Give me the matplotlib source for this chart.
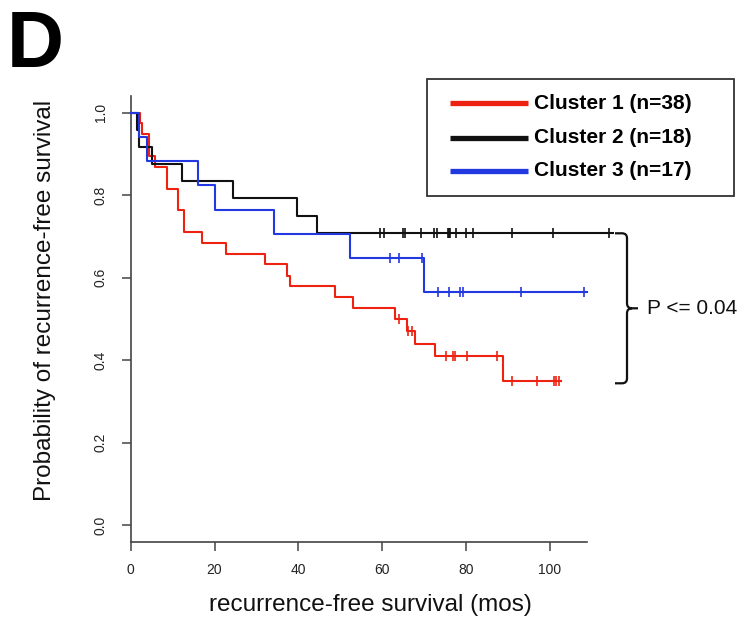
import numpy as np
import matplotlib
matplotlib.use("Agg")
import matplotlib.pyplot as plt
from matplotlib.path import Path
from matplotlib.patches import PathPatch, Rectangle
from matplotlib.lines import Line2D

plt.rcParams["font.family"] = ["Liberation Sans", "DejaVu Sans"]

W, H = 755, 621

# ---------------- data ----------------
labels = ["Cluster 1 (n=38)", "Cluster 2 (n=18)", "Cluster 3 (n=17)"]
colors = ["#EE2211", "#111111", "#2238E0"]

red_times = [0, 2.2, 2.8, 4.3, 5.7, 8.6, 11.3, 12.6, 16.9, 22.7, 32.0, 37.2, 38.1,
             48.7, 53.1, 63.0, 65.8, 67.8, 72.6, 88.9]
red_surv = [1.0, 0.974, 0.947, 0.895, 0.868, 0.816, 0.763, 0.711, 0.684, 0.658, 0.632,
            0.605, 0.579, 0.553, 0.526, 0.499, 0.471, 0.439, 0.410, 0.350]
red_cens = [64.0, 66.2, 67.0, 75.1, 76.9, 77.3, 80.1, 87.3, 90.9, 96.8, 101.0, 101.4, 102.1]
red_end = 102.6

black_times = [0, 1.4, 2.0, 5.0, 12.2, 24.4, 39.7, 44.4]
black_surv = [1.0, 0.958, 0.917, 0.875, 0.834, 0.792, 0.750, 0.709]
black_cens = [59.5, 60.3, 64.9, 65.5, 69.2, 72.3, 73.0, 75.6, 75.9, 76.2, 77.7, 80.0,
              81.7, 90.9, 100.6, 114.1]
black_end = 115.0

blue_times = [0, 2.0, 4.0, 16.0, 20.2, 34.1, 52.4, 69.9]
blue_surv = [1.0, 0.941, 0.882, 0.824, 0.765, 0.706, 0.647, 0.566]
blue_cens = [61.8, 64.0, 69.5, 73.3, 75.8, 78.5, 79.2, 93.2, 108.2]
blue_end = 108.8

x_ticks = [0, 20, 40, 60, 80, 100]
y_ticks = [0.0, 0.2, 0.4, 0.6, 0.8, 1.0]
x_label = "recurrence-free survival (mos)"
y_label = "Probability of recurrence-free survival"
p_text = "P <= 0.04"
panel = "D"

series = [
    (red_times, red_surv, red_cens, red_end),
    (black_times, black_surv, black_cens, black_end),
    (blue_times, blue_surv, blue_cens, blue_end),
]

# ---------------- figure ----------------
fig = plt.figure(figsize=(W / 100, H / 100), dpi=100)


def fx(x):
    return x / W


def fy(y):
    return 1 - y / H


x0_px, x_scale = 130.7, 4.193
xmax = 120
ylo, yhi = -0.04, 1.04
ax_bottom_px = 541.7
ax_h_px = 1.08 * 412.6
ax = fig.add_axes([fx(x0_px), fy(ax_bottom_px), xmax * x_scale / W, ax_h_px / H])
ax.set_xlim(0, xmax)
ax.set_ylim(ylo, yhi)

axis_col = "#444444"
for s in ["top", "right"]:
    ax.spines[s].set_visible(False)
for s in ["left", "bottom"]:
    ax.spines[s].set_color(axis_col)
    ax.spines[s].set_linewidth(1.2)
ax.spines["bottom"].set_bounds(0, 108.8)

ax.set_xticks(x_ticks)
ax.set_xticklabels([str(v) for v in x_ticks])
ax.set_yticks(y_ticks)
ax.set_yticklabels([f"{v:.1f}" for v in y_ticks], rotation=90, va="center")
ax.tick_params(axis="both", direction="out", length=6.5, width=1.1, color=axis_col,
               labelsize=10, labelcolor="#222222")
ax.tick_params(axis="x", pad=9)
ax.tick_params(axis="y", pad=10)

for (t, s, c, end), col in zip(series, colors):
    t = np.asarray(t, float)
    s = np.asarray(s, float)
    xs = np.append(t, end)
    ys = np.append(s, s[-1])
    ax.step(xs, ys, where="post", color=col, lw=1.5, clip_on=False, zorder=3)
    c = np.asarray(c, float)
    idx = np.searchsorted(t, c, side="right") - 1
    ax.plot(c, s[idx], linestyle="none", marker="|", ms=7, mew=1.2, color=col,
            clip_on=False, zorder=4)

# axis labels
fig.text(fx(370), fy(605), x_label, ha="center", va="center", fontsize=17.5, color="#111111")
fig.text(fx(45), fy(300), y_label, ha="center", va="center", rotation=90,
         fontsize=17.5, color="#111111")

# panel letter
fig.text(fx(7), fy(66.7), panel, ha="left", va="baseline", fontsize=57, fontweight="bold")

# legend (manual)
fig.patches.append(Rectangle((fx(426.7), fy(196)), (734 - 426.7) / W, (196 - 79.3) / H,
                             transform=fig.transFigure, fill=False, edgecolor="#333333",
                             lw=1.3))
for lab, col, ypx in zip(labels, colors, [103.3, 137.7, 171.0]):
    fig.lines.append(Line2D([fx(450), fx(528)], [fy(ypx), fy(ypx)], transform=fig.transFigure,
                            color=col, lw=3.8, solid_capstyle="butt"))
    fig.text(fx(534), fy(ypx), lab, ha="left", va="center", fontsize=15, fontweight="bold")

# bracket
bx_l, bx_m, bx_t = 615, 627, 638
by_t, by_m, by_b = 233.3, 308.3, 383.3
r = 5
verts = [
    (bx_l, by_t), (bx_m - r, by_t), (bx_m, by_t), (bx_m, by_t + r),
    (bx_m, by_m - r), (bx_m, by_m), (bx_m + r, by_m), (bx_t, by_m),
    (bx_m + r, by_m), (bx_m, by_m), (bx_m, by_m + r),
    (bx_m, by_b - r), (bx_m, by_b), (bx_m - r, by_b), (bx_l, by_b),
]
codes = [Path.MOVETO, Path.LINETO, Path.CURVE3, Path.CURVE3,
         Path.LINETO, Path.CURVE3, Path.CURVE3, Path.LINETO,
         Path.MOVETO, Path.CURVE3, Path.CURVE3,
         Path.LINETO, Path.CURVE3, Path.CURVE3, Path.LINETO]
verts_f = [(fx(a), fy(b)) for a, b in verts]
fig.patches.append(PathPatch(Path(verts_f, codes), transform=fig.transFigure, fill=False,
                             edgecolor="#111111", lw=1.6))
fig.text(fx(647), fy(308.3), p_text, ha="left", va="center", fontsize=15, color="#111111")

fig.savefig("out.png", dpi=100)
